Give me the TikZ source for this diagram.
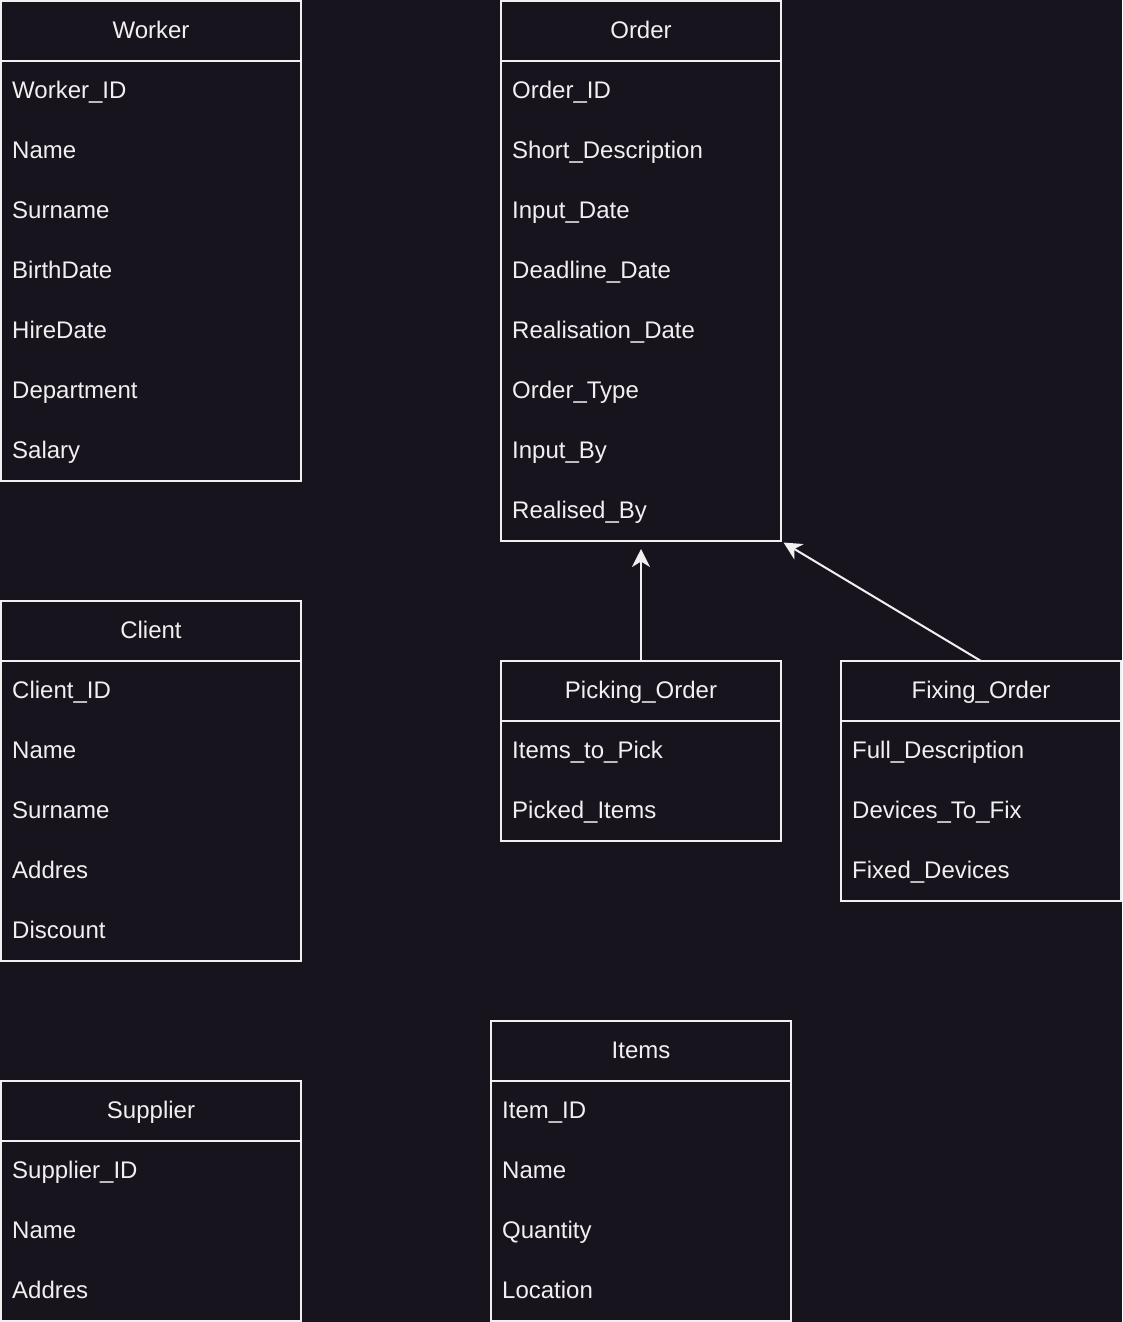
\documentclass[tikz,border=0pt]{standalone}
\usepackage{fontspec}
\setmainfont{Liberation Sans}
\usetikzlibrary{arrows.meta,calc}
\definecolor{canvas}{RGB}{24,20,29}
\definecolor{ink}{RGB}{240,240,240}
\tikzset{
  labelfont/.style={text=ink, font=\fontsize{24}{28}\selectfont, text height=17.2pt, text depth=0pt},
  entityhead/.style={draw=ink, line width=2pt, fill=canvas, outer sep=0pt, inner sep=0pt, anchor=north west},
  entitybody/.style={draw=ink, line width=2pt, fill=canvas, outer sep=0pt, inner sep=0pt, anchor=north west},
  title/.style={inner sep=0pt, labelfont},
  field/.style={anchor=west, inner sep=0pt, labelfont},
  isa/.style={draw=ink, line width=2pt, -{Stealth[length=18pt,width=18pt,inset=5.5pt]}}
}
% #1 name, #2 x, #3 y, #4 width, #5 title, #6 number of fields, #7 fields
\newcommand\entity[7]{%
  \node[entityhead, minimum width=#4pt, minimum height=60pt] (#1) at (#2,#3) {};
  \node[title] (#1-title) at ($(#1.center)+(0,-1)$) {#5};
  \node[entitybody, minimum width=#4pt, minimum height=#6*60pt] (#1-body) at (#1.south west) {};
  \foreach \f [count=\i] in {#7}
    \node[field] (#1-f\i) at ($(#1-body.north west)+(11,{(\i-0.5)*60-1})$) {\f};
}
\begin{document}
\begin{tikzpicture}[x=1pt,y=-1pt]
  \path[fill=canvas, use as bounding box] (0,0) rectangle (1122,1322);

  \entity{worker}{1}{1}{300}{Worker}{7}{Worker\_ID,Name,Surname,BirthDate,HireDate,Department,Salary}
  \entity{order}{501}{1}{280}{Order}{8}{Order\_ID,Short\_Description,Input\_Date,Deadline\_Date,Realisation\_Date,Order\_Type,Input\_By,Realised\_By}
  \entity{client}{1}{601}{300}{Client}{5}{Client\_ID,Name,Surname,Addres,Discount}
  \entity{picking}{501}{661}{280}{Picking\_Order}{2}{Items\_to\_Pick,Picked\_Items}
  \entity{fixing}{841}{661}{280}{Fixing\_Order}{3}{Full\_Description,Devices\_To\_Fix,Fixed\_Devices}
  \entity{items}{491}{1021}{300}{Items}{4}{Item\_ID,Name,Quantity,Location}
  \entity{supplier}{1}{1081}{300}{Supplier}{3}{Supplier\_ID,Name,Addres}

  % specialisations of Order
  \draw[isa, shorten >=8pt] (picking.north) -- (order-body.south);
  \draw[isa, shorten >=3pt] (fixing.north) -- (order-body.south east);
\end{tikzpicture}
\end{document}
